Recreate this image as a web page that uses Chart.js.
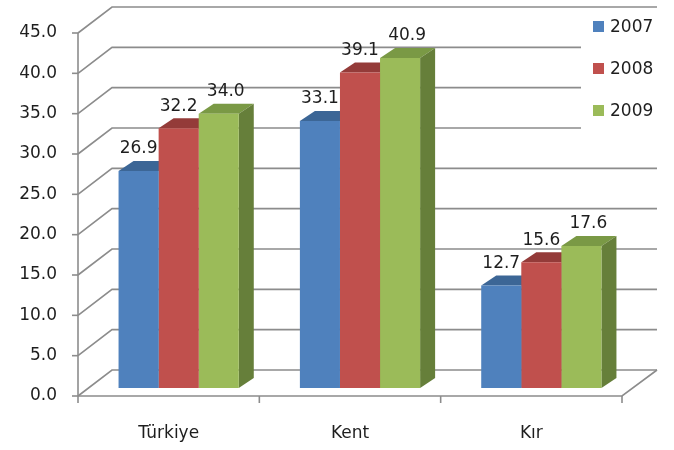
<!DOCTYPE html>
<html>
<head>
<meta charset="utf-8">
<script src="https://cdn.jsdelivr.net/npm/chart.js@4/dist/chart.umd.min.js"></script>
<style>
  html, body { margin: 0; padding: 0; background: #fff; }
  #wrap { width: 674px; height: 450px; }
</style>
</head>
<body>
<div id="wrap"><canvas id="myChart" width="674" height="450"></canvas></div>
<script>
const categories = ['Türkiye', 'Kent', 'Kır'];
const years = ['2007', '2008', '2009'];
const values2007 = [26.9, 33.1, 12.7];
const values2008 = [32.2, 39.1, 15.6];
const values2009 = [34.0, 40.9, 17.6];
const yTicks = [0, 5, 10, 15, 20, 25, 30, 35, 40, 45];

const frontColors = ['#4f81bd', '#c0504d', '#9bbb59'];
const topColors = ['#3c6696', '#943b39', '#7a9945'];
const sideColors = ['#3a5f8c', '#8c3936', '#667f3a'];

const FONT = 'DejaVu Sans';
const wall = { dx: 34, dy: -26 };   // back wall offset
const plane = { dx: 10, dy: -8 };   // bars sit half way into the box
const box = { dx: 15, dy: -10 };    // bar depth

const gridColor = '#8c8c8c';

function line(ctx, pts) {
  ctx.beginPath();
  ctx.moveTo(pts[0][0], pts[0][1]);
  for (let i = 1; i < pts.length; i++) ctx.lineTo(pts[i][0], pts[i][1]);
  ctx.stroke();
}
function poly(ctx, pts, color) {
  ctx.beginPath();
  ctx.moveTo(pts[0][0], pts[0][1]);
  for (let i = 1; i < pts.length; i++) ctx.lineTo(pts[i][0], pts[i][1]);
  ctx.closePath();
  ctx.fillStyle = color;
  ctx.fill();
}

const box3d = {
  id: 'box3d',
  beforeDatasetsDraw(chart) {
    const ctx = chart.ctx;
    const { left, right, top, bottom } = chart.chartArea;
    const y = chart.scales.y;
    const x = chart.scales.x;

    ctx.save();
    ctx.strokeStyle = gridColor;
    ctx.lineWidth = 1.6;
    // side wall diagonals + back wall lines
    yTicks.forEach(v => {
      const py = y.getPixelForValue(v);
      line(ctx, [[left, py], [left + wall.dx, py + wall.dy], [right + wall.dx + 1, py + wall.dy]]);
      line(ctx, [[left - 6, py], [left, py]]);
    });
    // floor edge and axes
    line(ctx, [[left, bottom], [right, bottom], [right + wall.dx + 1, bottom + wall.dy]]);
    line(ctx, [[left, top], [left, bottom + 7]]);
    const step = (right - left) / categories.length;
    for (let i = 1; i <= categories.length; i++) {
      const px = left + step * i;
      line(ctx, [[px, bottom], [px, bottom + 7]]);
    }
    ctx.restore();

    // top and side faces, fronts are drawn over them by the bar controller
    ctx.save();
    ctx.translate(plane.dx, plane.dy);
    chart.data.datasets.forEach((ds, di) => {
      chart.getDatasetMeta(di).data.forEach(bar => {
        const l = bar.x - bar.width / 2, r = bar.x + bar.width / 2;
        poly(ctx, [[l, bar.y], [l + box.dx, bar.y + box.dy], [r + box.dx, bar.y + box.dy], [r, bar.y]], topColors[di]);
        poly(ctx, [[r, bar.y], [r + box.dx, bar.y + box.dy], [r + box.dx, bar.base + box.dy], [r, bar.base]], sideColors[di]);
      });
    });
  },
  afterDatasetsDraw(chart) {
    const ctx = chart.ctx;
    // value labels above each bar
    ctx.font = '17px "' + FONT + '"';
    ctx.fillStyle = '#1e1e1e';
    ctx.textAlign = 'center';
    ctx.textBaseline = 'middle';
    chart.data.datasets.forEach((ds, di) => {
      chart.getDatasetMeta(di).data.forEach((bar, i) => {
        const off = di === 2 ? 7 : 0;
        ctx.fillText(ds.data[i].toFixed(1), bar.x + off, bar.y - 22);
      });
    });
    ctx.restore();

    // legend
    ctx.save();
    ctx.fillStyle = '#fff';
    ctx.fillRect(581, 14, 80, 136);
    ctx.font = '17px "' + FONT + '"';
    ctx.textAlign = 'left';
    ctx.textBaseline = 'middle';
    chart.data.datasets.forEach((ds, di) => {
      const cy = 27 + di * 42;
      ctx.fillStyle = frontColors[di];
      ctx.fillRect(593, cy - 6, 11, 11);
      ctx.fillStyle = '#1e1e1e';
      ctx.fillText(ds.label, 610, cy + 1);
    });
    ctx.restore();
  }
};

const data = {
  labels: categories,
  datasets: [
    { label: years[0], data: values2007, backgroundColor: frontColors[0] },
    { label: years[1], data: values2008, backgroundColor: frontColors[1] },
    { label: years[2], data: values2009, backgroundColor: frontColors[2] }
  ]
};

const config = {
  type: 'bar',
  data: data,
  options: {
    responsive: false,
    animation: false,
    events: [],
    layout: { padding: { left: 0, right: 52, top: 33, bottom: 0 } },
    datasets: { bar: { categoryPercentage: 0.663, barPercentage: 1, borderWidth: 0 } },
    plugins: { legend: { display: false }, tooltip: { enabled: false } },
    scales: {
      x: {
        grid: { display: false, drawTicks: false },
        border: { display: false },
        ticks: { color: '#1e1e1e', font: { family: FONT, size: 17 }, padding: 27 },
        afterFit(scale) { scale.height = 54; }
      },
      y: {
        min: 0,
        max: 45,
        grid: { display: false, drawTicks: false },
        border: { display: false },
        ticks: {
          stepSize: 5,
          color: '#1e1e1e',
          font: { family: FONT, size: 17 },
          padding: 21,
          callback: v => v.toFixed(1)
        },
        afterFit(scale) { scale.width = 78; }
      }
    }
  },
  plugins: [box3d]
};

const myChart = new Chart(document.getElementById('myChart'), config);
</script>
</body>
</html>
